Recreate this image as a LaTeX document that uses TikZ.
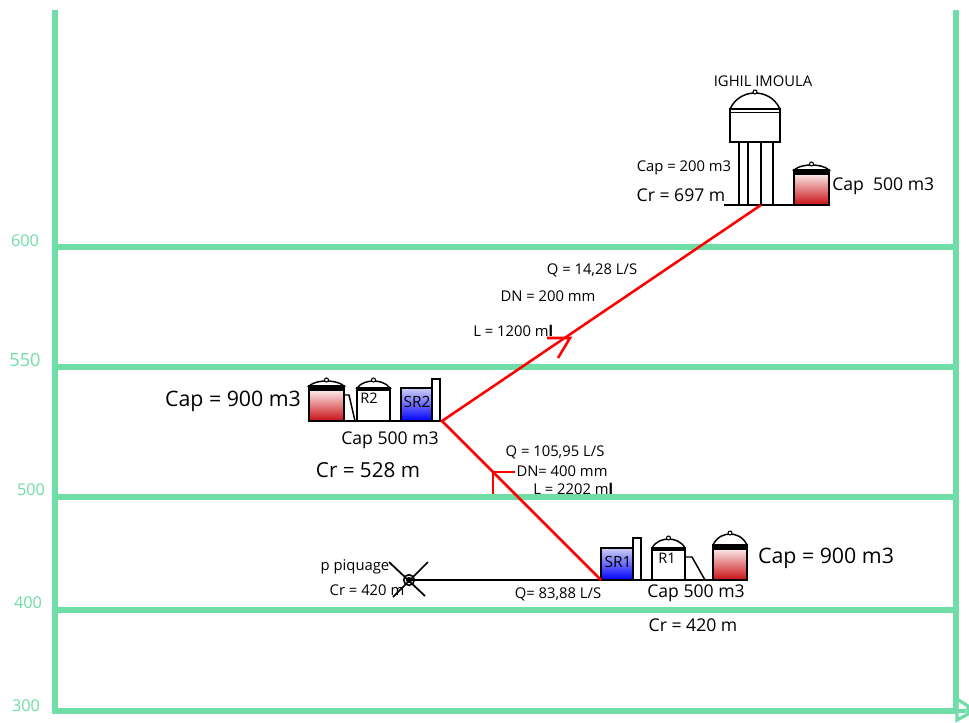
\documentclass[tikz,border=0pt]{standalone}
\usepackage{fontspec}
\setmainfont{Open Sans}
\definecolor{gridgreen}{HTML}{6FDDA6}
\definecolor{pale}{HTML}{FBE4E4}
\definecolor{deepred}{HTML}{C80F14}
\definecolor{paleblue}{HTML}{CFCFF6}
\definecolor{deepblue}{HTML}{0000FF}
\tikzset{
  grid line/.style={draw=gridgreen,line width=3.8pt},
  axis label/.style={text=gridgreen,font=\fontsize{12.2}{14}\selectfont,inner sep=0pt},
  lab/.style={inner sep=0pt,yshift=-1pt,font=\fontsize{11.1}{13}\selectfont},
  labm/.style={inner sep=0pt,yshift=-.7pt,font=\fontsize{13.2}{15}\selectfont},
  labb/.style={inner sep=0pt,font=\fontsize{15.5}{18}\selectfont},
  labx/.style={inner sep=0pt,yshift=-.7pt,font=\fontsize{16}{19}\selectfont},
  eqlab/.style={inner sep=0pt,font=\fontsize{11.6}{13}\selectfont},
  eqlabs/.style={inner sep=0pt,font=\fontsize{10.9}{13}\selectfont},
  equip/.style={draw=black,line width=1.1pt,line join=miter},
  pipe/.style={draw=red,line width=1.9pt},
}
% dome with knob: left x, right x, base y, top y
\newcommand\domeshape[4]{%
  \draw[equip,fill=white] (#1,#3) .. controls ({#1+0.12*(#2-#1)},{#3-0.8*(#3-#4)}) and ({#1+0.35*(#2-#1)},#4) .. ({(#1+#2)/2},#4)
     .. controls ({#2-0.35*(#2-#1)},#4) and ({#2-0.12*(#2-#1)},{#3-0.8*(#3-#4)}) .. (#2,#3) -- cycle;
  \draw[equip,fill=white,line width=.8pt] ({(#1+#2)/2},{#4-1}) circle[radius=2];
}
% red tank: left, right, band top, band bottom, bottom, dome top
\newcommand\redtank[6]{%
  \domeshape{#1}{#2}{#3}{#6}
  \fill[top color=pale,bottom color=deepred] (#1,#4) rectangle (#2,#5);
  \fill[black] (#1,#3) rectangle (#2,#4);
  \draw[equip] (#1,#3) rectangle (#2,#5);
}
% white tank: left, right, top, bottom, dome top
\newcommand\whitetank[5]{%
  \domeshape{#1}{#2}{#3}{#5}
  \draw[equip,fill=white] (#1,#3) rectangle (#2,#4);
  \draw[equip,line width=.8pt] (#1,{#3+2}) -- (#2,{#3+2});
}
% blue tank: left, right, top, bottom, tall right, tall top
\newcommand\bluetank[6]{%
  \draw[equip,top color=paleblue,bottom color=deepblue] (#1,#3) rectangle (#2,#4);
  \draw[equip,fill=white] (#2,#6) rectangle (#5,#4);
}
\begin{document}
\begin{tikzpicture}[x=0.75pt,y=-0.75pt]
\useasboundingbox (0,0) rectangle (969,722);
\fill[white] (0,0) rectangle (969,722);

% frame coordinates
\coordinate (tl) at (55,10);
\coordinate (bl) at (55,711);
\coordinate (tr) at (956,10);
\coordinate (br) at (956,711);
\foreach \n/\y in {a/247,b/367,c/497,d/610}{
  \coordinate (l\n) at (55,\y);
  \coordinate (r\n) at (956,\y);
  \draw[grid line] (l\n) -- (r\n);
}
\draw[grid line] (tl) -- (bl) -- (br);
\draw[grid line] (tr) -- (br);
\draw[draw=gridgreen,line width=2.4pt,fill=white] (957,699) -- (968,706) -- (968,714) -- (957,720) -- cycle;
\draw[grid line,line width=3pt] (br) -- (966,711);

\node[axis label] (t600) at (25,241) {600};
\node[axis label,font=\fontsize{13.6}{16}\selectfont] (t550) at (25,360) {550};
\node[axis label] (t500) at (31,490) {500};
\node[axis label] (t400) at (28,603) {400};
\node[axis label] (t300) at (26,706) {300};

% water tower
\coordinate (baseTL) at (724,205);
\coordinate (baseTR) at (794,205);
\draw[equip] (baseTL) -- (baseTR);
\foreach \x in {739,748,761,773}{\draw[equip] (\x,142) -- (\x,205);}
\domeshape{730}{780}{109}{93}
\draw[equip,fill=white] (730,109) rectangle (780,142);
\draw[equip] (730,112.5) -- (780,112.5);
\redtank{794}{829}{170}{174.5}{205}{165}

% R2 group
\coordinate (baseML) at (309,421);
\coordinate (junctionM) at (442,421);
\draw[equip] (baseML) -- (junctionM);
\redtank{309}{344}{386}{391}{421}{381}
\draw[equip] (344,395) -- (349,395) -- (355,421);
\whitetank{357}{390}{388}{421}{381}
\bluetank{401}{432}{388}{421}{440}{379}

% R1 group
\coordinate (valveE) at (409,580);
\coordinate (junctionB) at (601,580);
\coordinate (baseBR) at (747,580);
\draw[equip] (valveE) -- (baseBR);
\bluetank{601}{633}{548}{580}{641}{538}
\whitetank{652}{685}{548}{580}{539}
\draw[equip] (685,557) -- (692,557) -- (705,580);
\redtank{713}{747}{545}{549.5}{580}{534}

% valve
\coordinate (xa) at (389,562);
\coordinate (xb) at (425,596);
\coordinate (xc) at (428,562);
\coordinate (xd) at (393,597);
\draw[equip,line width=1.3pt] (xa) -- (xb);
\draw[equip,line width=1.3pt] (xc) -- (xd);
\node[circle,draw=black,line width=1.2pt,minimum size=8pt,inner sep=0pt] (valve) at (409,580) {};
\fill[black] (valve) circle[radius=3];

% red pipes
\coordinate (towerFoot) at (761,205);
\draw[pipe,line join=miter] (towerFoot) -- (junctionM) -- (junctionB);
\coordinate (tipA) at (570,338);
\coordinate (tipB) at (493,472);
\draw[pipe] (547,338) -- (tipA) -- (558,358);
\draw[pipe] (515,472) -- (tipB) -- (493,494);

% labels
\node[lab] (ighil) at (763,79.5) {IGHIL IMOULA};
\node[lab] (cap200) at (684,167) {Cap = 200 m3};
\node[labm] (cr697) at (681,194) {Cr = 697 m};
\node[labm,anchor=west] (cap500t) at (832,185) {Cap\ \ 500 m3};
\node[lab] (qa) at (592,269.5) {Q = 14,28 L/S};
\node[lab] (dna) at (548,294.5) {DN = 200 mm};
\node[lab,anchor=west] (la) at (473,330) {L = 1200 m\textbf{l}};
\node[labx] (cap900m) at (233,400) {Cap = 900 m3};
\node[labm] (cap500m) at (390,439.5) {Cap 500 m3};
\node[labb] (cr528) at (368,470) {Cr = 528 m};
\node[lab] (qb) at (555,451) {Q = 105,95 L/S};
\node[lab] (dnb) at (562,469.5) {DN= 400 mm};
\node[lab,anchor=west] (lb) at (533,487.5) {L = 2202 m\textbf{l}};
\node[lab] (piq) at (355,565) {p piquage};
\node[lab] (cr420v) at (367,588.5) {Cr = 420 m};
\node[lab] (qc) at (558,593.5) {Q= 83,88 L/S};
\node[labx] (cap900b) at (826,557.5) {Cap = 900 m3};
\node[labm] (cap500b) at (696,592.5) {Cap 500 m3};
\node[labm] (cr420b) at (693,624.5) {Cr = 420 m};
\node[eqlab] (sr1) at (618,562) {SR1};
\node[eqlabs] (r1) at (667,558) {R1};
\node[eqlabs] (r2) at (369,398) {R2};
\node[eqlab] (sr2) at (417,402) {SR2};
\end{tikzpicture}
\end{document}
